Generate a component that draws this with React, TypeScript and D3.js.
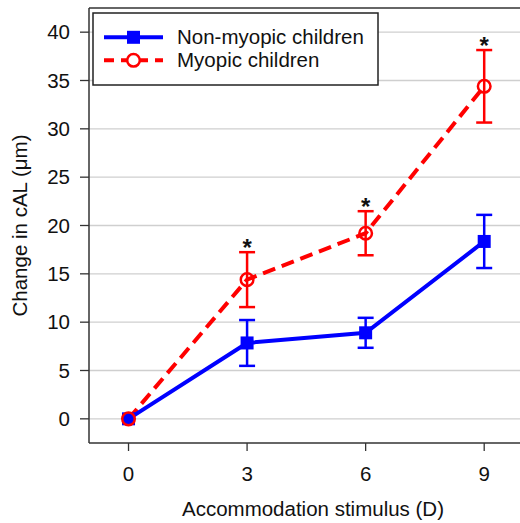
import React from "react";
import * as d3 from "d3";

const stimulus = [0, 3, 6, 9];
const nonMyopicMean = [0, 7.85, 8.9, 18.35];
const nonMyopicErr = [0, 2.37, 1.55, 2.75];
const myopicMean = [0, 14.4, 19.2, 34.4];
const myopicErr = [0, 2.84, 2.28, 3.75];
const significant = [false, true, true, true];
const yTicks = [0, 5, 10, 15, 20, 25, 30, 35, 40];
const xTicks = [0, 3, 6, 9];

const W = 520;
const H = 523;
const FONT = "'Liberation Sans', Arial, Helvetica, sans-serif";
const BLUE = "#0000ff";
const RED = "#ff0000";

export default function App() {
  const x = d3.scaleLinear().domain([-1, 10]).range([89, 89 + 11 * 39.52]);
  const y = d3.scaleLinear().domain([-2.5, 42.5]).range([443, 8]);
  const left = 89, top = 8, bottom = 443, right = W;

  const line = d3
    .line<number>()
    .x((_, i) => x(stimulus[i]))
    .y((d) => y(d));

  const capW = 8;

  const errBars = (means: number[], errs: number[], color: string) =>
    means.map((m, i) =>
      errs[i] > 0 ? (
        <g key={i} stroke={color} strokeWidth={2.5} fill="none">
          <line x1={x(stimulus[i])} x2={x(stimulus[i])} y1={y(m + errs[i])} y2={y(m - errs[i])} />
          <line x1={x(stimulus[i]) - capW} x2={x(stimulus[i]) + capW} y1={y(m + errs[i])} y2={y(m + errs[i])} />
          <line x1={x(stimulus[i]) - capW} x2={x(stimulus[i]) + capW} y1={y(m - errs[i])} y2={y(m - errs[i])} />
        </g>
      ) : null
    );

  const sq = 13;

  return (
    <svg
      width={W}
      height={H}
      style={{ position: "absolute", left: 0, top: 0, background: "#fff" }}
      fontFamily={FONT}
    >
      <rect x={0} y={0} width={W} height={H} fill="#fff" />
      {/* gridlines */}
      {yTicks.map((t) => (
        <line key={t} x1={left} x2={right} y1={y(t)} y2={y(t)} stroke="#cfcfcf" strokeWidth={1.3} />
      ))}
      {/* frame */}
      <line x1={left} x2={right} y1={top} y2={top} stroke="#333" strokeWidth={1.5} />
      <line x1={left} x2={left} y1={top} y2={bottom} stroke="#333" strokeWidth={1.5} />
      <line x1={left} x2={right} y1={bottom} y2={bottom} stroke="#333" strokeWidth={1.5} />
      {/* y ticks */}
      {yTicks.map((t) => (
        <g key={t}>
          <line x1={left - 9} x2={left} y1={y(t)} y2={y(t)} stroke="#333" strokeWidth={1.3} />
          <text x={70} y={y(t) + 7.3} textAnchor="end" fontSize={20.5} fill="#111">
            {t}
          </text>
        </g>
      ))}
      {/* x ticks */}
      {xTicks.map((t) => (
        <g key={t}>
          <line x1={x(t)} x2={x(t)} y1={bottom} y2={bottom + 8} stroke="#333" strokeWidth={1.3} />
          <text x={x(t)} y={480.5} textAnchor="middle" fontSize={20.5} fill="#111">
            {t}
          </text>
        </g>
      ))}
      {/* axis titles */}
      <text x={313} y={516} textAnchor="middle" fontSize={20.5} fill="#111">
        Accommodation stimulus (D)
      </text>
      <text
        transform={`translate(27,${(top + bottom) / 2}) rotate(-90)`}
        textAnchor="middle"
        fontSize={20.5}
        fill="#111"
      >
        Change in cAL (μm)
      </text>

      {/* error bars */}
      {errBars(myopicMean, myopicErr, RED)}
      {errBars(nonMyopicMean, nonMyopicErr, BLUE)}

      {/* lines */}
      <path d={line(myopicMean) || ""} fill="none" stroke={RED} strokeWidth={4} strokeDasharray="13,7" />
      <path d={line(nonMyopicMean) || ""} fill="none" stroke={BLUE} strokeWidth={4} />

      {/* markers */}
      {nonMyopicMean.map((m, i) => (
        <rect key={i} x={x(stimulus[i]) - sq / 2} y={y(m) - sq / 2} width={sq} height={sq} fill={BLUE} />
      ))}
      {myopicMean.map((m, i) => (
        <circle key={i} cx={x(stimulus[i])} cy={y(m)} r={6.3} fill="none" stroke={RED} strokeWidth={2.5} />
      ))}

      {/* significance */}
      {significant.map((s, i) =>
        s ? (
          <text key={i} x={x(stimulus[i])} y={y(myopicMean[i] + myopicErr[i]) - 10 + 14} textAnchor="middle" fontSize={24} fontWeight="bold" fill="#111">
            *
          </text>
        ) : null
      )}

      {/* legend */}
      <rect x={93} y={13} width={285} height={72} fill="#fff" stroke="#222" strokeWidth={1.5} />
      <line x1={104} x2={163} y1={37.3} y2={37.3} stroke={BLUE} strokeWidth={4} />
      <rect x={133.5 - sq / 2} y={37.3 - sq / 2} width={sq} height={sq} fill={BLUE} />
      <text x={177} y={44} fontSize={20.5} fill="#111">
        Non-myopic children
      </text>
      <line x1={104} x2={163} y1={60.3} y2={60.3} stroke={RED} strokeWidth={4} strokeDasharray="10,7" />
      <circle cx={133.5} cy={60.3} r={6.3} fill="#fff" stroke={RED} strokeWidth={2.5} />
      <text x={177} y={67} fontSize={20.5} fill="#111">
        Myopic children
      </text>
    </svg>
  );
}
